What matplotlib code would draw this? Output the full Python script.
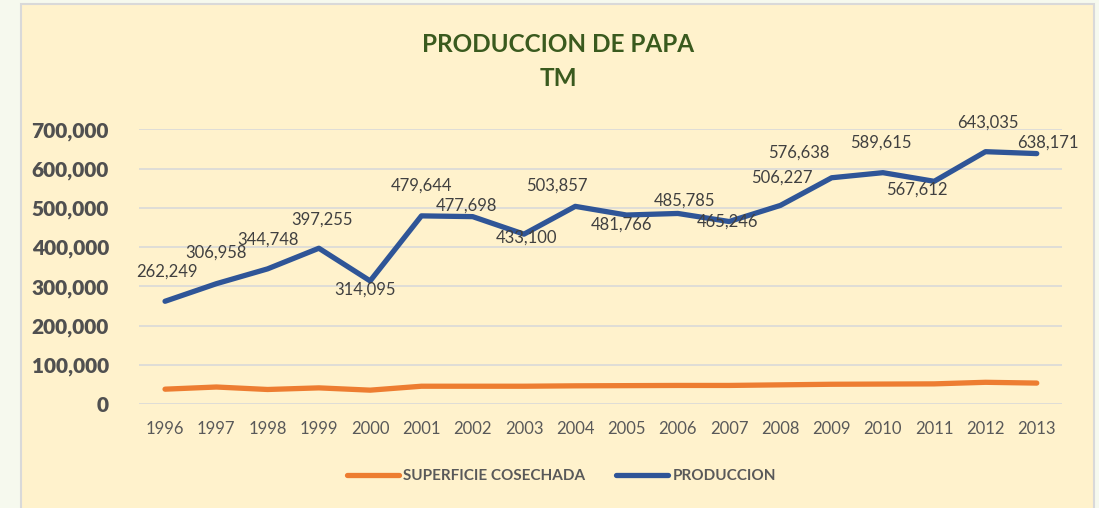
import matplotlib
matplotlib.use("Agg")
import matplotlib.pyplot as plt
from matplotlib.patches import Rectangle
from matplotlib.ticker import FuncFormatter

# data
years = list(range(1996, 2014))
produccion = [262249, 306958, 344748, 397255, 314095, 479644, 477698, 433100, 503857,
              481766, 485785, 465246, 506227, 576638, 589615, 567612, 643035, 638171]
superficie = [38500, 44000, 37700, 41800, 36000, 46000, 46000, 46000, 47000,
              47500, 48000, 48000, 49500, 51000, 51500, 52000, 56000, 54000]

# label offsets in pixels (dx, dy), dy positive = up
label_off = [(2, 30), (0, 31), (0, 29), (3, 29), (-5, -9), (0, 30), (-6, 11), (3, -3),
             (-18, 21), (-5, -10), (7, 13), (-2, 0), (1, 28), (-33, 25), (-2, 30),
             (-17, -8), (2, 29), (11, 11)]

plt.rcParams['font.family'] = ['Lato', 'DejaVu Sans']

fig = plt.figure(figsize=(10.99, 5.08), dpi=100)
fig.patch.set_facecolor('#F6F9EE')

# chart box
W, H = 1099, 508
fig.patches.append(Rectangle((21 / W, -0.01), (1094 - 21) / W, (503 + 6) / H - 0.0,
                             transform=fig.transFigure, facecolor='#FFF2CC',
                             edgecolor='#D9D9D9', linewidth=1.5, zorder=-10))

ax = fig.add_axes([139.4 / W, 1 - 404.3 / H, 923 / W, 275 / H])
ax.set_facecolor('none')

ax.plot(years, superficie, color='#ED7D31', linewidth=3.8, solid_capstyle='round',
        label='SUPERFICIE COSECHADA', zorder=3)
ax.plot(years, produccion, color='#2F5597', linewidth=3.8, solid_capstyle='round',
        label='PRODUCCION', zorder=3)

for x, v, (dx, dy) in zip(years, produccion, label_off):
    ax.annotate(f"{v:,}", (x, v), xytext=(dx, dy), textcoords='offset pixels',
                ha='center', va='center', fontsize=12, color='#404040', zorder=4)

ax.set_xlim(1995.5, 2013.5)
ax.set_ylim(0, 700000)
ax.set_yticks(range(0, 700001, 100000))
ax.yaxis.set_major_formatter(FuncFormatter(lambda v, p: f"{int(v):,}"))
ax.set_xticks(years)
ax.grid(axis='y', color='#D9D9D9', linewidth=1.2)
ax.set_axisbelow(True)
for s in ax.spines.values():
    s.set_visible(False)
ax.tick_params(length=0)
ax.tick_params(axis='y', labelsize=15, labelcolor='#505050', pad=22)
for t in ax.get_yticklabels():
    t.set_fontweight('heavy')
ax.tick_params(axis='x', labelsize=12, labelcolor='#595959', pad=12)

fig.text(0.508, 1 - 44 / H, "PRODUCCION DE PAPA", ha='center', va='center',
         fontsize=17.5, fontweight='bold', color='#3A5A1E')
fig.text(0.508, 1 - 78 / H, "TM", ha='center', va='center',
         fontsize=17.5, fontweight='bold', color='#3A5A1E')

leg = fig.legend(loc='center', bbox_to_anchor=(0.511, 1 - 476 / H), ncol=2,
                 frameon=False, handlelength=3.4, handletextpad=0.3,
                 columnspacing=2.0, prop={'size': 11, 'weight': 'bold'})
for t in leg.get_texts():
    t.set_color('#595959')

fig.savefig("out.png", dpi=100, facecolor=fig.get_facecolor())
